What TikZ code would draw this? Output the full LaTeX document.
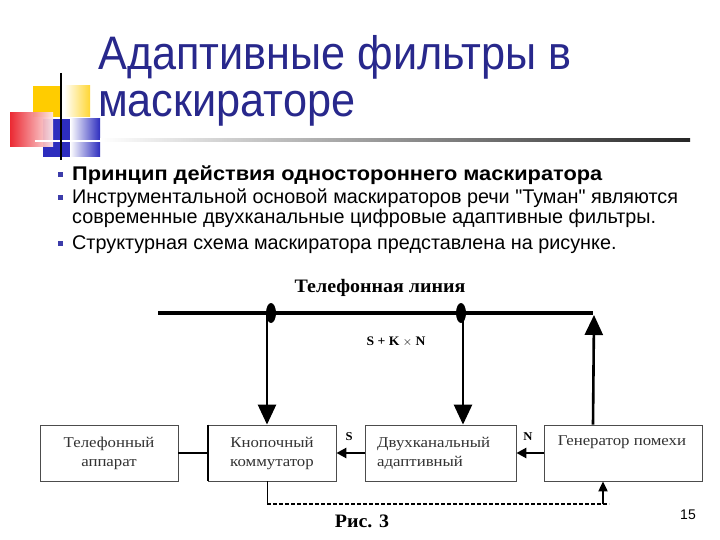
\documentclass[tikz,border=0pt]{standalone}
\usepackage{fontspec}
\setmainfont{Liberation Serif}
\newfontfamily\tahoma{Liberation Sans}
\newfontfamily\titlefont[FakeStretch=0.92]{Liberation Sans}
\newfontfamily\bulfont[FakeStretch=1.0]{Liberation Sans}
\newfontfamily\bulbold[FakeStretch=1.1]{Liberation Sans Bold}
\newfontfamily\boxfont[FakeStretch=1.12]{Liberation Serif}
\newfontfamily\boxbold[FakeStretch=1.05]{Liberation Serif Bold}
\usetikzlibrary{arrows.meta}
\definecolor{navy}{RGB}{40,40,140}
\definecolor{bulblue}{RGB}{60,60,170}
\definecolor{sqyellow}{RGB}{255,204,0}
\definecolor{sqblue}{RGB}{45,45,190}
\definecolor{sqred}{RGB}{235,30,40}
\definecolor{boxtext}{RGB}{50,50,50}
\tikzset{
  box/.style={draw=black!70, line width=0.8pt, minimum height=56pt, inner sep=0pt, text=boxtext, font=\boxfont\fontsize{15}{19}\selectfont},
  bigarrow/.style={line width=2.6pt, -{Triangle[width=18pt,length=20pt]}},
  smallarrow/.style={line width=2.6pt, -{Triangle[width=10pt,length=10pt]}},
  bul/.style={fill=bulblue, minimum size=5pt, inner sep=0pt},
  btext/.style={anchor=base west, inner sep=0pt, font=\bulfont\fontsize{19.8}{20}\selectfont},
  ttext/.style={anchor=base west, inner sep=0pt, text=navy, font=\titlefont\fontsize{47}{47}\selectfont},
  lbl/.style={inner sep=0pt, font=\boxbold\fontsize{12}{12}\selectfont}
}
\begin{document}
\begin{tikzpicture}[x=1pt,y=-1pt]
\useasboundingbox (0,0) rectangle (720,540);
\fill[white] (0,0) rectangle (720,540);
% decorative squares
\fill[sqyellow] (33,86) rectangle (60,117);
\shade[left color=white, right color=sqyellow!80] (64,86) rectangle (90,117);
\fill[sqblue] (43,119) rectangle (70,157);
\shade[left color=white, right color=sqblue] (70,119) rectangle (100,157);
\shade[left color=sqred, right color=sqred!10, opacity=0.95] (10,113) rectangle (53,147);
\draw[white, line width=2pt] (35,141) -- (100,141);
\draw[black, line width=2pt] (61,73) -- (61,160);
% title
\node[ttext] (t1) at (98,70) {Адаптивные фильтры в};
\node[ttext] (t2) at (98,117) {маскираторе};
\shade[left color=white, right color=black!85] (100,138.5) rectangle (690,141.5);
% bullets
\node[bul] (p1) at (60,175) {};
\node[bul] (p2) at (60,198) {};
\node[bul] (p3) at (60,243) {};
\node[btext, font=\bulbold\fontsize{19.8}{20}\selectfont] (l1) at (72,181) {Принцип действия одностороннего маскиратора};
\node[btext] (l2) at (72,204) {Инструментальной основой маскираторов речи "Туман" являются};
\node[btext] (l3) at (72,224) {современные двухканальные цифровые адаптивные фильтры.};
\node[btext] (l4) at (72,249) {Структурная схема маскиратора представлена на рисунке.};
% diagram
\node[inner sep=0pt, font=\boxbold\fontsize{19}{19}\selectfont] (tl) at (380,288) {Телефонная линия};
\coordinate (L0) at (158,313);
\coordinate (L1) at (593,313);
\draw[line width=4.5pt] (L0) -- (L1);
\coordinate (d1) at (267,313);
\coordinate (d2) at (463,313);
\fill (271,313) ellipse [x radius=5pt, y radius=10pt];
\fill (461,313) ellipse [x radius=5pt, y radius=10pt];
\node[lbl, font=\boxbold\fontsize{13}{13}\selectfont] (skn) at (396,342) {S + K $\times$ N};
\node[box, minimum width=138pt, align=center] (b1) at (109,453) {Телефонный\\аппарат};
\node[box, minimum width=128pt, align=center] (b2) at (272,453) {Кнопочный\\коммутатор};
\node[box, minimum width=151pt] (b3) at (440.5,453) {};
\node[box, minimum width=158pt] (b4) at (623,453) {};
\node[anchor=west, align=left, inner sep=0pt, text=boxtext, font=\boxfont\fontsize{15}{19}\selectfont] (b3t) at (377,453) {Двухканальный\\адаптивный};
\node[inner sep=0pt, text=boxtext, font=\boxfont\fontsize{15}{19}\selectfont] (b4t) at (622,442) {Генератор помехи};
\draw[line width=2.2pt] (b1.east) -- (b2.west);
\draw[line width=2pt] (b2.north west) -- (b2.south west);
\draw[bigarrow] (d1) -- (d1 |- b2.north);
\draw[bigarrow] (d2) -- (d2 |- b3.north);
\draw[bigarrow] (L1 |- b4.north) -- (594,315);
\draw[smallarrow] (b3.west) -- (b2.east);
\draw[smallarrow] (b4.west) -- (b3.east);
\node[lbl] (S) at (349,437) {S};
\node[lbl] (N) at (528,437) {N};
\coordinate (c1) at (267,504);
\coordinate (c2) at (609,504);
\coordinate (c3) at (603,504);
\draw[line width=1pt] (b2.south -| c1) -- (c1);
\draw[line width=1.6pt, dash pattern=on 4pt off 2pt] (c1) -- (c2);
\draw[line width=2pt, -{Triangle[width=9pt,length=10pt]}] (c3) -- (c3 |- b4.south);
\node[inner sep=0pt, font=\boxbold\fontsize{19}{19}\selectfont] (fig) at (362,521) {Рис. 3};
\node[inner sep=0pt, font=\tahoma\fontsize{14}{14}\selectfont] (pg) at (688,515) {15};
\end{tikzpicture}
\end{document}
